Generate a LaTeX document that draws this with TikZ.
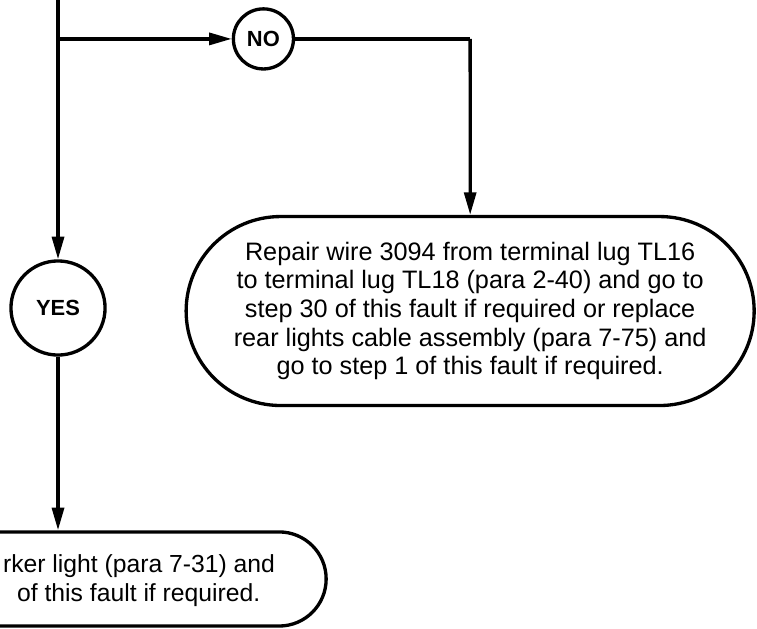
\documentclass[tikz,border=0pt]{standalone}
\usepackage{fontspec}
\setmainfont{Liberation Sans}
\usetikzlibrary{arrows.meta,shapes.misc,positioning}

\begin{document}
\begin{tikzpicture}[
        line width=2.5pt,
        arr/.style={-{Triangle[length=17pt,width=9pt]}},
        answer/.style={circle, draw, inner sep=0pt, font=\fontsize{16.5}{18}\selectfont\bfseries},
        action/.style={rounded rectangle, draw, align=center, inner sep=0pt, font=\fontsize{19}{21.5}\selectfont}
    ]
        % Frame
        \useasboundingbox (0,0) rectangle (20.03,16.64);
        \clip (0,0) rectangle (20.03,16.64);

        % Answers
        \node[answer, minimum size=1.59cm] (no) at (6.97,15.61) {NO};
        \node[answer, minimum size=2.49cm] (yes) at (1.535,8.49) {YES};

        % Action boxes
        \node[action, minimum width=15.03cm, minimum height=5cm] (repair) at (12.44,8.41)
            {Repair wire 3094 from terminal lug TL16\\
             to terminal lug TL18 (para 2-40) and go to\\
             step 30 of this fault if required or replace\\
             rear lights cable assembly (para 7-75) and\\
             go to step 1 of this fault if required.};
        \node[action, minimum width=14.19cm, minimum height=2.49cm] (marker) at (1.535,1.32) {};
        \node[font=\fontsize{18.6}{21.5}\selectfont, align=right, anchor=east, inner sep=0pt] (markertxt) at (7.32,1.27)
            {rker light (para 7-31) and\\ of this fault if required.\hspace*{0.39cm}};

        % Connectors
        \coordinate (top) at (1.535,17);
        \coordinate (split) at (1.535,15.61);
        \coordinate (bend) at (12.44,15.61);
        \draw (top) -- (split);
        \draw[arr] (split) -- (no);
        \draw (no) -- (bend);
        \draw[arr] (bend) -- (repair);
        \draw[arr] (split) -- (yes);
        \draw[arr] (yes) -- (marker);
    \end{tikzpicture}
\end{document}
